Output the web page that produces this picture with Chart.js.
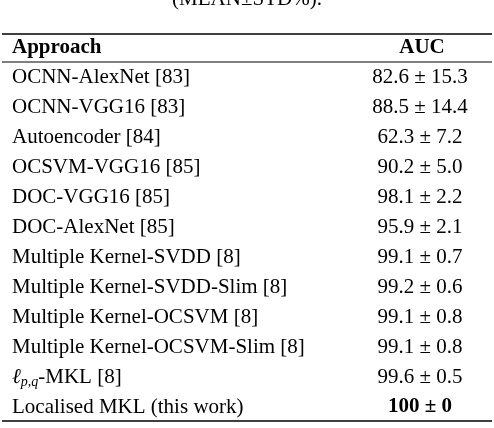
<!DOCTYPE html>
<html>
<head>
<meta charset="utf-8">
<script src="https://cdn.jsdelivr.net/npm/chart.js@4"></script>
<style>
  html, body { margin: 0; padding: 0; background: #fff; }
  #wrap { width: 494px; height: 428px; }
</style>
</head>
<body>
<div id="wrap"><canvas id="tabela"></canvas></div>
<script>
const approaches = [
  "OCNN-AlexNet [83]",
  "OCNN-VGG16 [83]",
  "Autoencoder [84]",
  "OCSVM-VGG16 [85]",
  "DOC-VGG16 [85]",
  "DOC-AlexNet [85]",
  "Multiple Kernel-SVDD [8]",
  "Multiple Kernel-SVDD-Slim [8]",
  "Multiple Kernel-OCSVM [8]",
  "Multiple Kernel-OCSVM-Slim [8]",
  "LPQ-MKL [8]",
  "Localised MKL (this work)"
];
const aucMean = ["82.6", "88.5", "62.3", "90.2", "98.1", "95.9", "99.1", "99.2", "99.1", "99.1", "99.6", "100"];
const aucStd = ["15.3", "14.4", "7.2", "5.0", "2.2", "2.1", "0.7", "0.6", "0.8", "0.8", "0.5", "0"];

const serif = '"Liberation Serif", "DejaVu Serif", serif';
const fs = 21;

const tablePlugin = {
  id: 'tablePlugin',
  afterDraw(chart) {
    const c = chart.ctx;
    const y = chart.scales.y;
    c.save();
    c.fillStyle = '#000';
    c.strokeStyle = '#000';
    // caption (cut off at the top)
    c.font = fs + 'px ' + serif;
    c.textAlign = 'center';
    c.textBaseline = 'alphabetic';
    c.fillText('(MEAN\u00B1STD%).', 247, 5);

    // rules
    c.lineWidth = 1.6;
    c.beginPath(); c.moveTo(2, 34); c.lineTo(492, 34); c.stroke();
    c.lineWidth = 1;
    c.beginPath(); c.moveTo(2, 62); c.lineTo(492, 62); c.stroke();
    c.lineWidth = 1.6;
    c.beginPath(); c.moveTo(2, 421); c.lineTo(492, 421); c.stroke();

    // header
    c.textBaseline = 'middle';
    c.font = 'bold ' + fs + 'px ' + serif;
    c.textAlign = 'left';
    c.fillText('Approach', 12, 48);
    c.textAlign = 'center';
    c.fillText('AUC', 422, 48);

    approaches.forEach((name, i) => {
      const py = y.getPixelForValue(i);
      c.textAlign = 'left';
      c.font = fs + 'px ' + serif;
      if (name.startsWith('LPQ')) {
        c.font = 'italic ' + fs + 'px ' + serif;
        c.fillText('\u2113', 12, py);
        let x = 12 + c.measureText('\u2113').width;
        c.font = 'italic 14px ' + serif;
        c.fillText('p,q', x, py + 5);
        x += c.measureText('p,q').width;
        c.font = fs + 'px ' + serif;
        c.fillText(name.slice(3), x, py);
      } else {
        c.fillText(name, 12, py);
      }
      const last = i === approaches.length - 1;
      c.font = (last ? 'bold ' : '') + fs + 'px ' + serif;
      c.textAlign = 'center';
      c.fillText(aucMean[i] + ' \u00B1 ' + aucStd[i], 420, py);
    });
    c.restore();
  }
};

new Chart(document.getElementById('tabela').getContext('2d'), {
  type: 'bar',
  data: {
    labels: approaches,
    datasets: [{
      label: 'AUC',
      data: aucMean.map(Number),
      backgroundColor: 'rgba(0,0,0,0)'
    }]
  },
  options: {
    indexAxis: 'y',
    responsive: true,
    maintainAspectRatio: false,
    animation: false,
    layout: { padding: { top: 63, bottom: 6, left: 0, right: 0 } },
    plugins: { legend: { display: false }, tooltip: { enabled: false } },
    scales: {
      x: { display: false, min: 0, max: 100 },
      y: { display: false }
    }
  },
  plugins: [tablePlugin]
});
</script>
</body>
</html>
